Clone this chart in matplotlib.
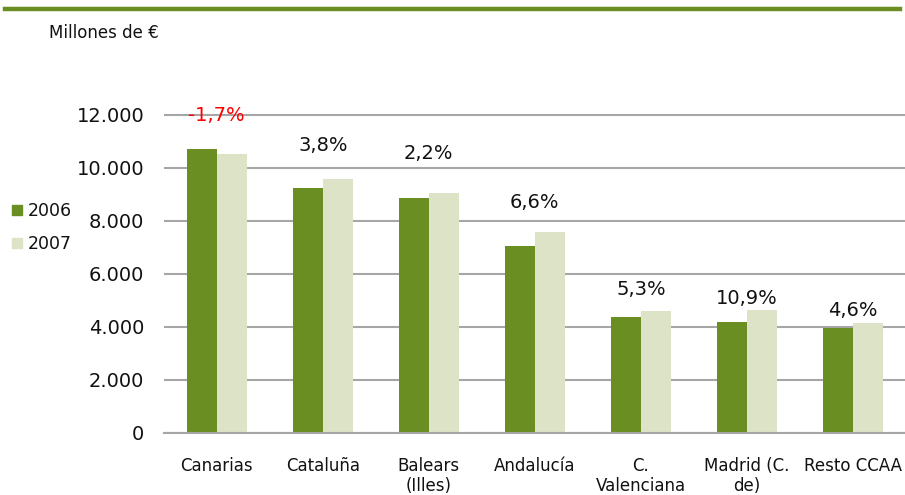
import matplotlib
matplotlib.use("Agg")
import matplotlib.pyplot as plt
import numpy as np

# values in millions of euros
regions = ["Canarias", "Cataluña", "Balears\n(Illes)", "Andalucía",
           "C.\nValenciana", "Madrid (C.\nde)", "Resto CCAA"]
v2006 = [10690, 9230, 8870, 7050, 4380, 4190, 3960]
v2007 = [10500, 9590, 9060, 7560, 4610, 4650, 4130]
changes = ["-1,7%", "3,8%", "2,2%", "6,6%", "5,3%", "10,9%", "4,6%"]
yticks = [0, 2000, 4000, 6000, 8000, 10000, 12000]
ytick_labels = ["0", "2.000", "4.000", "6.000", "8.000", "10.000", "12.000"]

# how far above the taller bar each % label sits (data units)
label_gap = [1290, 1260, 1480, 1130, 780, 430, 470]

DARK = "#6b8e23"
LIGHT = "#dde3c6"
GRID = "#a6a6a6"

fig = plt.figure(figsize=(9.05, 4.95), dpi=100)
ax = fig.add_axes([0.181, 0.1253, 0.82, 0.822 - 0.1253])

x = np.arange(len(regions))
w = 0.283
ax.bar(x - w / 2, v2006, w, color=DARK, zorder=3)
ax.bar(x + w / 2, v2007, w, color=LIGHT, zorder=3)

ax.set_xlim(-0.5, len(regions) - 0.5)
ax.set_ylim(0, 13000)
ax.set_yticks(yticks)
ax.set_yticklabels(ytick_labels, fontsize=14, family="DejaVu Sans", color="#111111")
ax.yaxis.grid(True, color=GRID, lw=1.5, zorder=0)
ax.tick_params(axis="both", length=0)
ax.tick_params(axis="y", pad=14)
for s in ["top", "right", "left"]:
    ax.spines[s].set_visible(False)
ax.spines["bottom"].set_color(GRID)
ax.spines["bottom"].set_linewidth(1.5)
ax.spines["bottom"].set_zorder(4)

ax.set_xticks(x)
ax.set_xticklabels(regions, fontsize=12, color="#111111",
                   family=["Liberation Sans Narrow", "DejaVu Sans"],
                   linespacing=1.18, va="top")
ax.tick_params(axis="x", pad=17)

for i, lab in enumerate(changes):
    top = max(v2006[i], v2007[i]) + label_gap[i]
    col = "#ff0000" if lab.startswith("-") else "#111111"
    ax.text(x[i], top, lab, ha="center", va="center", fontsize=14,
            color=col, family="DejaVu Sans")

# legend on the left
fig.patches.append(plt.Rectangle((12 / 905, 1 - 215 / 495), 10 / 905, 10 / 495,
                                 transform=fig.transFigure, color=DARK))
fig.patches.append(plt.Rectangle((12 / 905, 1 - 248 / 495), 10 / 905, 10 / 495,
                                 transform=fig.transFigure, color=LIGHT))
fig.text(28 / 905, 1 - 211 / 495, "2006", fontsize=12.5, va="center", color="#111111")
fig.text(28 / 905, 1 - 244 / 495, "2007", fontsize=12.5, va="center", color="#111111")

# header line and unit
fig.add_artist(plt.Line2D([5 / 905, 900 / 905], [1 - 9 / 495, 1 - 9 / 495],
                          transform=fig.transFigure, color=DARK, lw=3.2))
fig.text(49 / 905, 1 - 33 / 495, "Millones de €", fontsize=12, va="center",
         color="#111111")

fig.savefig("out.png", dpi=100)
